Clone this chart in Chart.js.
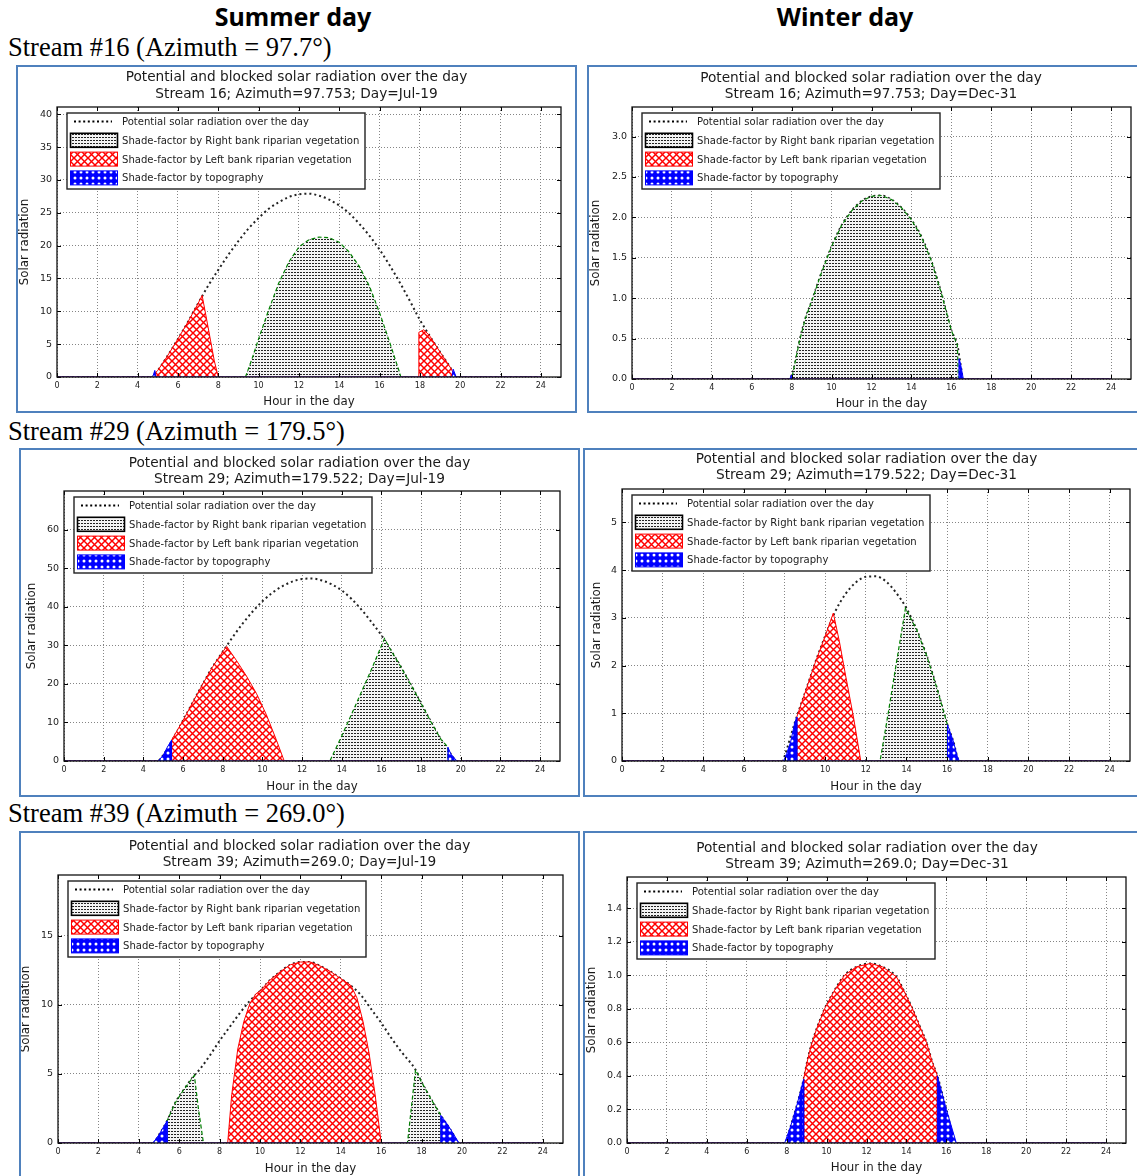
<!DOCTYPE html>
<html>
<head>
<meta charset="utf-8">
<script src="https://cdn.jsdelivr.net/npm/chart.js@4.4.1/dist/chart.umd.min.js"></script>
<style>
  html, body { margin: 0; padding: 0; overflow: hidden; background: #fff; }
  body { position: relative; width: 1137px; height: 1176px; }
  .hdr { position: absolute; font-family: 'Noto Sans', sans-serif; font-weight: bold; font-size: 25px; line-height: 1; white-space: nowrap; transform: translateX(-50%); color: #000; }
  .stream { position: absolute; left: 8px; font-family: 'Liberation Serif', serif; font-size: 26.5px; line-height: 1; white-space: nowrap; color: #000; }
  .box { position: absolute; border: 2px solid #4f81bd; box-sizing: border-box; background: #fff; }
  .box canvas { position: absolute; left: 0; top: 0; }
</style>
</head>
<body>
<div class="hdr" style="left:293px; top:4px;">Summer day</div>
<div class="hdr" style="left:845px; top:4px;">Winter day</div>
<div class="stream" style="top:34px;">Stream #16 (Azimuth = 97.7°)</div>
<div class="stream" style="top:418px;">Stream #29 (Azimuth = 179.5°)</div>
<div class="stream" style="top:800px;">Stream #39 (Azimuth = 269.0°)</div>
<div id="panels"></div>

<script>
// [hour, value] pairs
const legendLabels = [
  'Potential solar radiation over the day',
  'Shade-factor by Right bank riparian vegetation',
  'Shade-factor by Left bank riparian vegetation',
  'Shade-factor by topography'
];
const xAxisTitle = 'Hour in the day';
const yAxisTitle = 'Solar radiation';
const plotTitle = 'Potential and blocked solar radiation over the day';
const hourTicks = [0, 2, 4, 6, 8, 10, 12, 14, 16, 18, 20, 22, 24];

// Stream 16, Jul-19
const s16JulPotential = [[0,0],[4.7,0],[5,1.0],[5.5,3.3],[6,5.8],[6.5,8.4],[7,11.2],[7.5,13.9],[8,16.3],[8.5,18.6],[9,20.7],[9.5,22.6],[10,24.2],[10.5,25.6],[11,26.6],[11.5,27.4],[12,27.8],[12.5,27.9],[13,27.6],[13.5,27.0],[14,26.1],[14.5,24.9],[15,23.3],[15.5,21.5],[16,19.4],[16.5,17.0],[17,14.4],[17.5,11.6],[18,8.7],[18.5,6.2],[19,3.8],[19.5,1.5],[19.8,0],[24,0]];
const s16JulRight = [[0,0],[9.35,0],[9.7,3],[10,5.8],[10.5,10.2],[11,14.3],[11.5,17.5],[12,19.8],[12.5,20.9],[13,21.3],[13.5,21.2],[14,20.5],[14.5,19.0],[15,16.8],[15.5,13.8],[16,9.8],[16.5,5.3],[17,0.6],[17.05,0],[24,0]];
const s16JulLeft = [[0,0],[4.85,0],[4.9,0.7],[5,1.0],[5.5,3.3],[6,5.8],[6.5,8.4],[7,11.2],[7.2,12.4],[7.5,7.5],[7.8,2.5],[8.0,0],[17.95,0],[17.95,6.8],[18.2,7.2],[18.5,6.2],[19,3.8],[19.5,1.5],[19.7,0.4],[19.72,0],[24,0]];
const s16JulTopo = [[0,0],[4.75,0],[4.85,1.0],[4.9,0],[19.6,0],[19.65,1.2],[19.8,0],[24,0]];

// Stream 16, Dec-31
const s16DecPotential = [[0,0],[7.9,0],[8.0,0.05],[8.1,0.12],[8.4,0.48],[8.7,0.76],[9,0.96],[9.5,1.32],[10,1.64],[10.5,1.9],[11,2.08],[11.5,2.2],[12,2.26],[12.5,2.27],[13,2.22],[13.5,2.12],[14,1.97],[14.5,1.76],[15,1.46],[15.5,1.06],[16,0.6],[16.3,0.42],[16.45,0.2],[16.6,0],[24,0]];
const s16DecRight = [[0,0],[8.0,0],[8.1,0.12],[8.4,0.48],[8.7,0.76],[9,0.96],[9.5,1.32],[10,1.64],[10.5,1.9],[11,2.08],[11.5,2.2],[12,2.26],[12.5,2.27],[13,2.22],[13.5,2.12],[14,1.97],[14.5,1.76],[15,1.46],[15.5,1.06],[16,0.6],[16.3,0.42],[16.35,0],[24,0]];
const s16DecLeft = [[0,0],[24,0]];
const s16DecTopo = [[0,0],[7.9,0],[8.0,0.05],[8.05,0],[16.35,0],[16.38,0.25],[16.45,0.2],[16.6,0],[24,0]];

// Stream 29, Jul-19
const s29JulPotential = [[0,0],[4.7,0],[5,1.5],[5.5,5.8],[6,10.5],[6.5,15.3],[7,20],[7.5,24.5],[8,28.3],[8.5,32.1],[9,35.6],[9.5,38.7],[10,41.4],[10.5,43.6],[11,45.3],[11.5,46.5],[12,47.2],[12.5,47.3],[13,46.8],[13.5,45.8],[14,44.2],[14.5,42],[15,39.2],[15.5,36],[16,32.6],[16.5,28.5],[17,24.2],[17.5,19.6],[18,14.9],[18.5,10.1],[19,5.6],[19.5,1.8],[19.8,0],[24,0]];
const s29JulRight = [[0,0],[13.4,0],[14,6.5],[14.5,12.2],[15,18],[15.5,23.8],[16.15,31.7],[16.5,28.5],[17,24.2],[17.5,19.6],[18,14.9],[18.5,10.1],[19,5.6],[19.35,3.6],[19.35,0],[24,0]];
const s29JulLeft = [[0,0],[5.42,0],[5.42,5.4],[6,10.5],[6.5,15.3],[7,20],[7.5,24.5],[8,28.3],[8.2,29.7],[8.7,26],[9.2,22],[9.7,17.5],[10.2,12],[10.7,5.5],[11.1,0],[24,0]];
const s29JulTopo = [[0,0],[4.75,0],[5,1.5],[5.2,3.5],[5.42,5.4],[5.42,0],[19.35,0],[19.35,3.6],[19.5,1.8],[19.8,0],[24,0]];

// Stream 29, Dec-31
const s29DecPotential = [[0,0],[7.9,0],[8,0.1],[8.5,0.8],[9,1.42],[9.5,2.05],[10,2.62],[10.5,3.14],[11,3.5],[11.5,3.74],[12,3.86],[12.5,3.87],[13,3.76],[13.5,3.52],[14,3.2],[14.5,2.75],[15,2.2],[15.5,1.52],[16,0.78],[16.3,0.42],[16.6,0],[24,0]];
const s29DecRight = [[0,0],[12.7,0],[13.1,1.0],[13.5,2.05],[13.95,3.2],[14.5,2.75],[15,2.2],[15.5,1.52],[16,0.78],[16.02,0],[24,0]];
const s29DecLeft = [[0,0],[8.6,0],[8.6,0.92],[9,1.42],[9.5,2.05],[10,2.62],[10.4,3.1],[10.7,2.5],[11,1.8],[11.4,0.9],[11.75,0],[24,0]];
const s29DecTopo = [[0,0],[7.95,0],[8.1,0.15],[8.3,0.4],[8.5,0.8],[8.6,0.92],[8.6,0],[16.02,0],[16.02,0.76],[16.3,0.42],[16.5,0.1],[16.6,0],[24,0]];

// Stream 39, Jul-19
const s39JulPotential = [[0,0],[4.7,0],[5,0.6],[5.4,1.6],[5.8,2.9],[6.2,3.8],[6.75,4.9],[7,5.3],[7.5,6.3],[8,7.4],[8.5,8.4],[9,9.4],[9.5,10.3],[10,11.0],[10.5,11.8],[11,12.4],[11.5,12.9],[12,13.1],[12.5,13.1],[13,12.8],[13.5,12.4],[14,11.9],[14.5,11.4],[15,10.7],[15.5,9.7],[16,8.7],[16.5,7.6],[17,6.6],[17.7,5.3],[18,4.4],[18.5,3.1],[18.95,2.0],[19.5,0.8],[19.85,0],[24,0]];
const s39JulRight = [[0,0],[5.4,0],[5.4,1.6],[5.8,2.9],[6.2,3.8],[6.75,4.9],[6.95,2.5],[7.2,0],[17.3,0],[17.7,5.3],[18,4.4],[18.5,3.1],[18.95,2.0],[18.95,0],[24,0]];
const s39JulLeft = [[0,0],[8.4,0],[8.6,3.5],[8.9,6.8],[9.2,8.8],[9.5,10.1],[9.8,10.8],[10,11.0],[10.5,11.8],[11,12.4],[11.5,12.9],[12,13.1],[12.5,13.1],[13,12.8],[13.5,12.4],[14,11.9],[14.5,11.4],[14.8,10.5],[15.1,8.8],[15.4,6.5],[15.7,3.5],[16.0,0],[24,0]];
const s39JulTopo = [[0,0],[4.7,0],[5,0.6],[5.2,1.1],[5.4,1.6],[5.4,0],[18.95,0],[18.95,2.0],[19.3,1.3],[19.6,0.6],[19.85,0],[24,0]];

// Stream 39, Dec-31
const s39DecPotential = [[0,0],[7.9,0],[8.2,0.1],[8.5,0.22],[8.85,0.38],[9,0.47],[9.2,0.57],[9.5,0.68],[9.9,0.8],[10.4,0.91],[10.9,1.0],[11.5,1.05],[12.2,1.07],[12.8,1.05],[13.5,0.99],[13.9,0.9],[14.3,0.8],[14.65,0.7],[15,0.6],[15.3,0.48],[15.55,0.4],[16,0.2],[16.5,0],[24,0]];
const s39DecRight = [[0,0],[24,0]];
const s39DecLeft = [[0,0],[8.85,0],[8.85,0.38],[9,0.47],[9.2,0.57],[9.5,0.68],[9.9,0.8],[10.4,0.91],[10.9,1.0],[11.5,1.05],[12.2,1.07],[12.8,1.05],[13.5,0.99],[13.9,0.9],[14.3,0.8],[14.65,0.7],[15,0.6],[15.3,0.48],[15.55,0.4],[15.55,0],[24,0]];
const s39DecTopo = [[0,0],[7.9,0],[8.2,0.1],[8.5,0.22],[8.85,0.38],[8.85,0],[15.55,0],[15.55,0.4],[16,0.2],[16.5,0],[24,0]];

// y tick labels of each panel
const s16JulTicks = [0, 5, 10, 15, 20, 25, 30, 35, 40];
const s16DecTicks = [0, 0.5, 1.0, 1.5, 2.0, 2.5, 3.0];
const s29JulTicks = [0, 10, 20, 30, 40, 50, 60];
const s29DecTicks = [0, 1, 2, 3, 4, 5];
const s39JulTicks = [0, 5, 10, 15];
const s39DecTicks = [0, 0.2, 0.4, 0.6, 0.8, 1.0, 1.2, 1.4];

// page layout of each panel (box and plot area in page pixels)
const panels = [
  { box: [16, 65, 577, 413], plot: [57, 107, 561, 377], t1: 77.7, xt: 402, yt: 25, yMax: 41.1, ticks: s16JulTicks, dec: 0,
    sub: 'Stream 16; Azimuth=97.753; Day=Jul-19', data: [s16JulPotential, s16JulRight, s16JulLeft, s16JulTopo] },
  { box: [587, 65, 1155, 413], plot: [632, 107, 1131, 379], t1: 78.3, xt: 404, yt: 596, yMax: 3.365, ticks: s16DecTicks, dec: 1,
    sub: 'Stream 16; Azimuth=97.753; Day=Dec-31', data: [s16DecPotential, s16DecRight, s16DecLeft, s16DecTopo] },
  { box: [19, 448, 580, 797], plot: [64, 491, 560, 761], t1: 463, xt: 787, yt: 32, yMax: 70, ticks: s29JulTicks, dec: 0,
    sub: 'Stream 29; Azimuth=179.522; Day=Jul-19', data: [s29JulPotential, s29JulRight, s29JulLeft, s29JulTopo] },
  { box: [583, 448, 1150, 797], plot: [622, 489, 1130, 761], t1: 459, xt: 787, yt: 597, yMax: 5.7, ticks: s29DecTicks, dec: 0,
    sub: 'Stream 29; Azimuth=179.522; Day=Dec-31', data: [s29DecPotential, s29DecRight, s29DecLeft, s29DecTopo] },
  { box: [19, 831, 580, 1180], plot: [58, 875, 563, 1143], t1: 846, xt: 1169, yt: 26, yMax: 19.4, ticks: s39JulTicks, dec: 0,
    sub: 'Stream 39; Azimuth=269.0; Day=Jul-19', data: [s39JulPotential, s39JulRight, s39JulLeft, s39JulTopo] },
  { box: [583, 831, 1151, 1180], plot: [627, 877, 1126, 1143], t1: 848, xt: 1168, yt: 592, yMax: 1.585, ticks: s39DecTicks, dec: 1,
    sub: 'Stream 39; Azimuth=269.0; Day=Dec-31', data: [s39DecPotential, s39DecRight, s39DecLeft, s39DecTopo] }
];

function makePattern(size, draw) {
  const c = document.createElement('canvas');
  c.width = size; c.height = size;
  const g = c.getContext('2d');
  draw(g, size);
  return g.createPattern(c, 'repeat');
}

const greyPattern = makePattern(3, (g) => {
  g.fillStyle = '#f4f4f4'; g.fillRect(0, 0, 3, 3);
  g.fillStyle = '#222222'; g.fillRect(0, 1, 2, 1);
});
const redPattern = makePattern(7, (g, s) => {
  g.fillStyle = '#ffffff'; g.fillRect(0, 0, s, s);
  g.strokeStyle = '#ff0000'; g.lineWidth = 1.45;
  g.beginPath();
  g.moveTo(-1, -1); g.lineTo(s + 1, s + 1);
  g.moveTo(-1, s + 1); g.lineTo(s + 1, -1);
  g.stroke();
});
const bluePattern = makePattern(6, (g, s) => {
  g.fillStyle = '#0000ff'; g.fillRect(0, 0, s, s);
  g.fillStyle = '#ffffff';
  g.beginPath(); g.arc(3, 3, 1.5, 0, Math.PI * 2); g.fill();
});

const fontFamily = "'DejaVu Sans', sans-serif";
const legendFont = "11.2px 'DejaVu Sans Condensed', 'DejaVu Sans', sans-serif";
Chart.defaults.font.family = fontFamily;
Chart.defaults.color = '#222';

const framePlugin = {
  id: 'frame',
  afterDatasetsDraw(chart) {
    const { ctx, chartArea: a, scales: { x, y } } = chart;
    ctx.save();
    ctx.strokeStyle = '#000';
    ctx.lineWidth = 1;
    ctx.beginPath();
    x.ticks.forEach((t) => {
      const px = Math.round(x.getPixelForValue(t.value)) + 0.5;
      ctx.moveTo(px, a.bottom); ctx.lineTo(px, a.bottom - 4);
      ctx.moveTo(px, a.top); ctx.lineTo(px, a.top + 4);
    });
    y.ticks.forEach((t) => {
      const py = Math.round(y.getPixelForValue(t.value)) + 0.5;
      ctx.moveTo(a.left, py); ctx.lineTo(a.left + 4, py);
      ctx.moveTo(a.right, py); ctx.lineTo(a.right - 4, py);
    });
    ctx.stroke();
    ctx.lineWidth = 1.3;
    ctx.strokeStyle = '#111';
    ctx.strokeRect(a.left, a.top, a.right - a.left, a.bottom - a.top);
    ctx.restore();
  }
};

const legendPlugin = {
  id: 'innerLegend',
  afterDraw(chart) {
    const { ctx, chartArea: a } = chart;
    const x0 = a.left + 10, y0 = a.top + 6, w = 298, h = 76;
    ctx.save();
    ctx.fillStyle = '#fff';
    ctx.fillRect(x0, y0, w, h);
    ctx.strokeStyle = '#222';
    ctx.lineWidth = 1.4;
    ctx.strokeRect(x0, y0, w, h);
    const fills = [null, greyPattern, redPattern, bluePattern];
    const edges = [null, '#000', '#ff0000', '#0000ff'];
    legendLabels.forEach((label, i) => {
      const yc = y0 + 8.5 + i * 18.8;
      if (i === 0) {
        ctx.strokeStyle = '#000';
        ctx.lineWidth = 2;
        ctx.setLineDash([2, 2.6]);
        ctx.beginPath(); ctx.moveTo(x0 + 7, yc); ctx.lineTo(x0 + 45, yc); ctx.stroke();
        ctx.setLineDash([]);
      } else {
        ctx.fillStyle = fills[i];
        ctx.fillRect(x0 + 3.5, yc - 7, 47, 14);
        ctx.strokeStyle = edges[i];
        ctx.lineWidth = i === 1 ? 1.6 : 1;
        ctx.strokeRect(x0 + 3.5, yc - 7, 47, 14);
      }
      ctx.fillStyle = '#222';
      ctx.font = legendFont;
      ctx.textBaseline = 'middle';
      ctx.textAlign = 'left';
      ctx.fillText(label, x0 + 55, yc + 0.5);
    });
    ctx.restore();
  }
};

function toPoints(pairs) {
  return pairs.map(([x, y]) => ({ x, y }));
}

const holder = document.getElementById('panels');
const bw = 2;

panels.forEach((p) => {
  const [bl, bt, br, bb] = p.box;
  const [pl, pt, pr, pb] = p.plot;
  const div = document.createElement('div');
  div.className = 'box';
  div.style.left = bl + 'px';
  div.style.top = bt + 'px';
  div.style.width = (br - bl) + 'px';
  div.style.height = (bb - bt) + 'px';
  const canvas = document.createElement('canvas');
  const cL = bl + bw, cT = bt + bw, cW = br - bl - 2 * bw, cH = bb - bt - 2 * bw;
  canvas.width = cW; canvas.height = cH;
  canvas.style.width = cW + 'px'; canvas.style.height = cH + 'px';
  div.appendChild(canvas);
  holder.appendChild(div);

  const titleSize = 13.7, tlh = 16.3, titleLH = tlh / titleSize;
  const titlePadTop = p.t1 - cT - tlh / 2;
  const titlePadBottom = (pt - cT) - titlePadTop - 2 * tlh;
  const axSize = 11.8, axLH = 1.2, alh = axSize * axLH;

  const [pot, right, left, topo] = p.data;

  new Chart(canvas, {
    type: 'line',
    data: {
      datasets: [
        { label: legendLabels[3], data: toPoints(topo), borderColor: '#0000ff', borderWidth: 1, backgroundColor: bluePattern, fill: 'origin', pointRadius: 0, tension: 0, order: 0 },
        { label: legendLabels[2], data: toPoints(left), borderColor: '#ff0000', borderWidth: 1, backgroundColor: redPattern, fill: 'origin', pointRadius: 0, tension: 0, order: 1 },
        { label: legendLabels[1], data: toPoints(right), borderColor: '#008000', borderWidth: 1.2, borderDash: [4, 2.5], backgroundColor: greyPattern, fill: 'origin', pointRadius: 0, tension: 0, order: 2 },
        { label: legendLabels[0], data: toPoints(pot), borderColor: '#222', borderWidth: 2, borderDash: [2, 3], borderCapStyle: 'butt', fill: false, pointRadius: 0, cubicInterpolationMode: 'monotone', order: 3 }
      ]
    },
    options: {
      responsive: false,
      animation: false,
      events: [],
      layout: { padding: 0 },
      plugins: {
        legend: { display: false },
        tooltip: { enabled: false },
        title: {
          display: true,
          text: [plotTitle, p.sub],
          color: '#1a1a1a',
          font: { size: titleSize, lineHeight: titleLH, weight: 'normal' },
          padding: { top: titlePadTop, bottom: titlePadBottom }
        }
      },
      scales: {
        x: {
          type: 'linear',
          min: 0,
          max: 25,
          ticks: { font: { size: 8 }, padding: 4.5, color: '#222' },
          grid: { color: '#666', lineWidth: 0.8, drawTicks: false },
          border: { display: false, dash: [1, 2] },
          title: { display: true, text: xAxisTitle, color: '#1a1a1a', font: { size: axSize, lineHeight: axLH }, padding: { top: 0, bottom: (cT + cH) - p.xt - alh / 2 } },
          afterBuildTicks: (s) => { s.ticks = hourTicks.map((v) => ({ value: v })); },
          afterFit: (s) => { s.height = cT + cH - pb; }
        },
        y: {
          type: 'linear',
          min: 0,
          max: p.yMax,
          ticks: { font: { size: 9.5 }, padding: 5, color: '#222',
            callback: (v) => Number(v).toFixed(p.dec) },
          grid: { color: '#666', lineWidth: 0.8, drawTicks: false },
          border: { display: false, dash: [1, 2] },
          title: { display: true, text: yAxisTitle, color: '#1a1a1a', font: { size: axSize, lineHeight: axLH }, padding: { top: p.yt - cL - alh / 2, bottom: 0 } },
          afterBuildTicks: (s) => { s.ticks = p.ticks.map((v) => ({ value: v })); },
          afterFit: (s) => { s.width = pl - cL; }
        },
        yr: {
          type: 'linear',
          position: 'right',
          display: true,
          ticks: { display: false },
          grid: { display: false, drawTicks: false },
          border: { display: false },
          afterFit: (s) => { s.width = cL + cW - pr; }
        }
      }
    },
    plugins: [framePlugin, legendPlugin]
  });
});
</script>
</body>
</html>
